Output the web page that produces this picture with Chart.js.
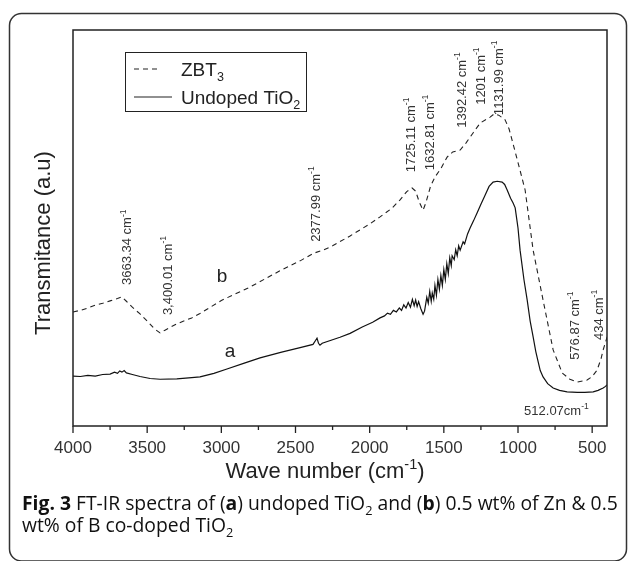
<!DOCTYPE html>
<html><head><meta charset="utf-8">
<script src="https://cdn.jsdelivr.net/npm/chart.js@4.4.1/dist/chart.umd.min.js"></script>
<style>html,body{margin:0;padding:0;background:#fff;}canvas{display:block;}</style>
</head><body>
<canvas id="c" width="629" height="561"></canvas>
<script>
// ---- DATA ----
const waveA = [4000,3950,3900,3850,3800,3750,3720,3700,3685,3670,3655,3640,3600,3548,3480,3413,3300,3200,3144,3050,2962,2850,2739,2600,2469,2382,2365,2355,2345,2335,2320,2200,2132,2050,1980,1930,1900,1880,1860,1840,1820,1800,1785,1770,1755,1740,1725,1712,1700,1690,1680,1670,1655,1640,1630,1615,1605,1595,1585,1578,1568,1560,1550,1540,1530,1520,1510,1500,1490,1480,1470,1460,1450,1444,1430,1420,1410,1400,1390,1370,1360,1340,1323,1300,1276,1250,1222,1195,1168,1140,1107,1090,1073,1050,1033,1019,1000,986,960,938,918,898,880,864,850,831,800,763,720,669,600,550,493,460,426,410,400];
const transA = [12.6,12.5,12.8,12.6,13.0,13.1,13.6,13.3,13.9,13.6,14.0,13.4,13.0,12.5,12.0,11.8,11.9,12.2,12.4,13.3,14.4,15.8,17.2,18.6,19.8,20.6,21.6,22.2,20.9,20.4,20.9,22.4,23.4,25.0,26.2,27.3,27.8,28.5,28.2,29.2,28.8,29.8,29.2,30.6,29.8,31.2,30.0,32.0,30.4,31.8,30.2,31.4,29.6,28.2,29.0,32.5,31.0,34.0,31.5,33.6,32.0,35.5,33.0,37.0,34.5,38.0,35.5,39.5,37.0,41.0,38.5,42.5,40.5,43.0,42.0,44.5,43.0,45.5,44.4,46.5,46.0,48.5,50.0,51.8,53.8,56.0,58.3,60.5,61.6,61.8,61.6,61.0,59.6,57.5,56.3,55.1,50.0,44.4,37.0,31.8,26.5,22.5,18.8,16.2,14.0,12.4,10.7,9.6,9.0,8.6,8.5,8.5,8.6,9.0,9.6,10.0,10.4];
const waveB = [4000,3950,3900,3850,3800,3750,3700,3670,3640,3600,3548,3500,3450,3413,3380,3300,3200,3144,3000,2806,2600,2469,2380,2314,2250,2132,2000,1930,1850,1795,1750,1714,1690,1665,1640,1620,1590,1559,1520,1478,1440,1390,1350,1303,1255,1188,1161,1130,1087,1060,1040,999,952,898,831,763,702,650,601,534,500,467,440,426,399];
const transB = [28.8,29.2,29.8,30.5,31.0,31.6,32.2,32.6,31.5,30.0,28.3,26.5,24.5,23.5,24.2,25.8,27.3,28.4,31.7,35.1,39.3,41.7,43.6,44.4,45.5,48.0,51.0,52.8,55.0,57.1,59.2,60.1,59.3,56.5,54.5,56.5,60.5,62.9,65.0,67.9,69.2,69.7,71.5,74.0,76.5,78.0,78.8,78.5,77.3,75.0,72.2,66.4,59.6,44.4,31.8,19.2,13.4,11.8,11.1,11.6,12.5,14.1,17.0,19.2,22.5];
const xTicks = [4000,3500,3000,2500,2000,1500,1000,500];
const xMinorTicks = [3750,3250,2750,2250,1750,1250,750];
const legendMain = ['ZBT','Undoped TiO'];
const legendSub = ['3','2'];
// peak annotations: wave number, transmittance (start of text), label
const annWave = [3636,3366,2368,1727,1599,1384,1255,1134,621,460];
const annVal  = [35.6,28.0,46.5,64.1,64.6,75.3,81.1,78.5,16.7,21.7];
const annText = ['3663.34 cm','3,400.01 cm','2377.99 cm','1725.11 cm','1632.81 cm','1392.42 cm','1201 cm','1131.99 cm','576.87 cm','434 cm'];
const hAnnWave = [959], hAnnVal = [4.0], hAnnText = ['512.07cm'];
const curveLetters = ['b','a'], letterWave = [2995,2941], letterVal = [37.6,18.7];

const INK = '#222';
const SANS = '"Liberation Sans", Arial, sans-serif';

function drawRich(ctx, segs, x, y, size, family) {
  let cx = x;
  for (const s of segs) {
    const sz = s.s ? size*0.66 : size;
    ctx.font = (s.b ? 'bold ' : '') + sz + 'px ' + family;
    const dy = s.s === 'sup' ? -size*0.42 : (s.s === 'sub' ? size*0.25 : 0);
    ctx.fillText(s.t, cx, y + dy);
    cx += ctx.measureText(s.t).width;
  }
  return cx - x;
}
function measureRich(ctx, segs, size, family) {
  let w = 0;
  for (const s of segs) {
    const sz = s.s ? size*0.66 : size;
    ctx.font = (s.b ? 'bold ' : '') + sz + 'px ' + family;
    w += ctx.measureText(s.t).width;
  }
  return w;
}

const decor = {
  id: 'decor',
  afterDraw(chart) {
    const ctx = chart.ctx, ca = chart.chartArea;
    const xs = chart.scales.x, ys = chart.scales.y;
    ctx.save();
    ctx.fillStyle = INK; ctx.strokeStyle = INK;
    ctx.textAlign = 'left'; ctx.textBaseline = 'alphabetic';
    // outer rounded frame
    ctx.lineWidth = 1.5; ctx.strokeStyle = '#333';
    ctx.beginPath(); ctx.roundRect(9.5, 13.5, 617, 547.5, 12); ctx.stroke();
    // plot box
    ctx.strokeStyle = INK; ctx.lineWidth = 1.5;
    ctx.strokeRect(ca.left, ca.top, ca.right - ca.left, ca.bottom - ca.top);
    // ticks
    ctx.lineWidth = 1.3;
    ctx.beginPath();
    xTicks.forEach(v => { const p = xs.getPixelForValue(v); ctx.moveTo(p, ca.bottom); ctx.lineTo(p, ca.bottom + 7); });
    xMinorTicks.forEach(v => { const p = xs.getPixelForValue(v); ctx.moveTo(p, ca.bottom); ctx.lineTo(p, ca.bottom + 4); });
    ctx.stroke();
    // legend
    const lx = ca.left + 52, ly = ca.top + 22;
    ctx.lineWidth = 1; ctx.strokeRect(lx + 0.5, ly + 0.5, 181, 59);
    const ds = chart.data.datasets;
    [0,1].forEach(i => {
      const yy = ly + 17 + i*28;
      ctx.save();
      ctx.lineWidth = 1.2;
      ctx.setLineDash(ds[i].borderDash || []);
      ctx.beginPath(); ctx.moveTo(lx + 9, yy); ctx.lineTo(lx + (i ? 47 : 35), yy); ctx.stroke();
      ctx.restore();
      drawRich(ctx, [{t: legendMain[i]}, {t: legendSub[i], s: 'sub'}], lx + 56, yy + 7, 19, SANS);
    });
    // rotated peak labels
    ctx.fillStyle = '#333';
    annText.forEach((t, i) => {
      const px = xs.getPixelForValue(annWave[i]), py = ys.getPixelForValue(annVal[i]);
      ctx.save(); ctx.translate(px + 4.5, py); ctx.rotate(-Math.PI/2);
      drawRich(ctx, [{t: t}, {t: '-1', s: 'sup'}], 0, 0, 13, SANS);
      ctx.restore();
    });
    hAnnText.forEach((t, i) => {
      const px = xs.getPixelForValue(hAnnWave[i]), py = ys.getPixelForValue(hAnnVal[i]);
      drawRich(ctx, [{t: t}, {t: '-1', s: 'sup'}], px, py + 4.5, 13, SANS);
    });
    ctx.fillStyle = INK;
    ctx.font = '19px ' + SANS; ctx.textAlign = 'center'; ctx.textBaseline = 'middle';
    curveLetters.forEach((t, i) => ctx.fillText(t, xs.getPixelForValue(letterWave[i]), ys.getPixelForValue(letterVal[i])));
    // y title
    ctx.save(); ctx.translate(44, 243); ctx.rotate(-Math.PI/2);
    ctx.font = '22px ' + SANS; ctx.fillText('Transmitance (a.u)', 0, 0);
    ctx.restore();
    // x title
    ctx.textAlign = 'left'; ctx.textBaseline = 'alphabetic';
    const xt = [{t: 'Wave number (cm'}, {t: '-1', s: 'sup'}, {t: ')'}];
    const xw = measureRich(ctx, xt, 22, SANS);
    drawRich(ctx, xt, 325 - xw/2, 478, 22, SANS);
    // caption
    const CAP = '"Open Sans", "Noto Sans", sans-serif';
    const l1 = [{t: 'Fig. 3', b: 1}, {t: ' FT-IR spectra of ('}, {t: 'a', b: 1}, {t: ') undoped TiO'}, {t: '2', s: 'sub'}, {t: ' and ('}, {t: 'b', b: 1}, {t: ') 0.5 wt% of Zn & 0.5'}];
    const l2 = [{t: 'wt% of B co-doped TiO'}, {t: '2', s: 'sub'}];
    const cs = 18 * 596 / measureRich(ctx, l1, 18, CAP);
    ctx.fillStyle = '#111';
    drawRich(ctx, l1, 22, 510, cs, CAP);
    drawRich(ctx, l2, 22, 532, cs, CAP);
    ctx.restore();
  }
};

new Chart(document.getElementById('c'), {
  type: 'line',
  data: {
    datasets: [
      { label: 'ZBT3', data: waveB.map((w, i) => ({x: w, y: transB[i]})), borderColor: INK, borderWidth: 1.1, borderDash: [5, 4], pointRadius: 0, tension: 0, fill: false },
      { label: 'Undoped TiO2', data: waveA.map((w, i) => ({x: w, y: transA[i]})), borderColor: '#111', borderWidth: 1.2, pointRadius: 0, tension: 0, fill: false }
    ]
  },
  options: {
    responsive: false, animation: false, devicePixelRatio: 1,
    layout: { padding: { left: 73, right: 22, top: 30, bottom: 90 } },
    plugins: { legend: { display: false }, tooltip: { enabled: false } },
    scales: {
      x: {
        type: 'linear', reverse: true, min: 400, max: 4000,
        afterBuildTicks: s => { s.ticks = xTicks.map(v => ({value: v})); },
        afterFit: s => { s.height = 45; },
        grid: { display: false, drawTicks: false },
        border: { display: false },
        ticks: { autoSkip: false, maxRotation: 0, padding: 12, color: '#333', font: { family: SANS, size: 17 }, callback: v => String(v) }
      },
      y: { display: false, min: 0, max: 100 }
    }
  },
  plugins: [decor]
});
</script>
</body></html>
